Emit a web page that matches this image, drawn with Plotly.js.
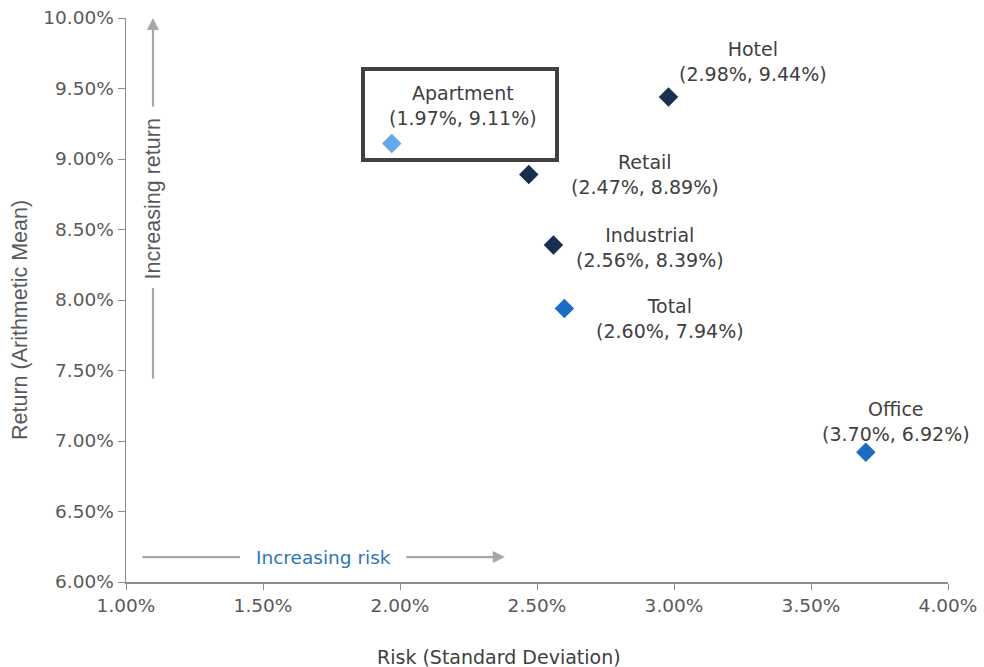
<!DOCTYPE html>
<html>
<head>
<meta charset="utf-8">
<script src="https://cdn.plot.ly/plotly-3.0.1.min.js"></script>
<style>html,body{margin:0;padding:0;background:#fff;}#chart{width:984px;height:667px;}</style>
</head>
<body>
<div id="chart"></div>
<script>
// ---- data ----
var names = ["Apartment", "Retail", "Industrial", "Total", "Hotel", "Office"];
var risk = [1.97, 2.47, 2.56, 2.60, 2.98, 3.70];      // %
var ret  = [9.11, 8.89, 8.39, 7.94, 9.44, 6.92];      // %
var xTicks = [1.0, 1.5, 2.0, 2.5, 3.0, 3.5, 4.0];
var yTicks = [6.0, 6.5, 7.0, 7.5, 8.0, 8.5, 9.0, 9.5, 10.0];
var xTitle = "Risk (Standard Deviation)";
var yTitle = "Return (Arithmetic Mean)";

// ---- styles ----
var colors = ["#63a8ea", "#172f50", "#172f50", "#1a6cc4", "#172f50", "#1a6cc4"];
var labelShift = [[71, 37.5], [116, 0], [97, -2], [106, -10], [84, 35.5], [30, 30.5]];
var verdana = "DejaVu Sans, Verdana, sans-serif";
var arial = "Liberation Sans, Arial, sans-serif";
var labelFont = {family: verdana, size: 19, color: "#404040"};
var arrowColor = "#a6a6a6";

function fmt(v) { return v.toFixed(2) + "%"; }

var trace = {
  type: "scatter", mode: "markers",
  x: risk, y: ret,
  marker: {symbol: "diamond", size: 15, color: colors, line: {width: 0}},
  hoverinfo: "skip", showlegend: false
};

var annotations = names.map(function (n, i) {
  return {
    x: risk[i], y: ret[i], xref: "x", yref: "y",
    text: n + "<br>(" + fmt(risk[i]) + ", " + fmt(ret[i]) + ")",
    showarrow: false, align: "center", xanchor: "center", yanchor: "middle",
    xshift: labelShift[i][0], yshift: labelShift[i][1], font: labelFont
  };
});

// direction arrows (x,y in data units)
function arrow(hx, hy, tx, ty, head) {
  return {x: hx, y: hy, ax: tx, ay: ty, xref: "x", yref: "y", axref: "x", ayref: "y",
    text: "", showarrow: true, arrowhead: head, arrowsize: 1.1, arrowwidth: 2.2, arrowcolor: arrowColor};
}
annotations.push(arrow(1.416, 6.177, 1.055, 6.177, 0));
annotations.push(arrow(2.383, 6.177, 2.018, 6.177, 2));
annotations.push(arrow(1.0985, 8.085, 1.0985, 7.433, 0));
annotations.push(arrow(1.0985, 10.0, 1.0985, 9.362, 2));
annotations.push({x: 1.719, y: 6.177, xref: "x", yref: "y", text: "Increasing risk", showarrow: false,
  font: {family: verdana, size: 18.5, color: "#2e75b6"}});
annotations.push({x: 1.0985, y: 8.72, xref: "x", yref: "y", text: "Increasing return", showarrow: false,
  textangle: -90, font: {family: arial, size: 21.5, color: "#595959"}});
// axis titles
annotations.push({x: 0.4538, y: 0, xref: "paper", yref: "paper", yshift: -75, text: xTitle,
  showarrow: false, xanchor: "center", yanchor: "middle", font: {family: verdana, size: 19, color: "#404040"}});
annotations.push({x: 0, y: 0.4645, xref: "paper", yref: "paper", xshift: -106, text: yTitle, textangle: -90,
  showarrow: false, xanchor: "center", yanchor: "middle", font: {family: arial, size: 21.5, color: "#595959"}});

var layout = {
  width: 984, height: 667,
  margin: {l: 126, r: 36, t: 18, b: 85},
  paper_bgcolor: "#ffffff", plot_bgcolor: "#ffffff",
  font: {family: verdana, size: 18.5, color: "#595959"},
  xaxis: {
    range: [1.0, 4.0], tickvals: xTicks, ticktext: xTicks.map(fmt),
    showgrid: false, zeroline: false, showline: true, linecolor: "#8c8c8c", linewidth: 1.5,
    ticks: "outside", ticklen: 6, tickcolor: "#8c8c8c", tickwidth: 1,
    tickfont: {family: verdana, size: 18.5, color: "#595959"}
  },
  yaxis: {
    range: [6.0, 10.0], tickvals: yTicks, ticktext: yTicks.map(fmt),
    showgrid: false, zeroline: false, showline: true, linecolor: "#8c8c8c", linewidth: 1.5,
    ticks: "outside", ticklen: 7, tickcolor: "#8c8c8c", tickwidth: 1,
    tickfont: {family: verdana, size: 18.5, color: "#595959"}
  },
  shapes: [{type: "rect", xref: "x", yref: "y", x0: 1.865, x1: 2.573, y0: 8.993, y1: 9.638,
    line: {color: "#404040", width: 4}, fillcolor: "rgba(0,0,0,0)", layer: "below"}],
  annotations: annotations
};

Plotly.newPlot("chart", [trace], layout, {displayModeBar: false, staticPlot: true});
</script>
</body>
</html>
